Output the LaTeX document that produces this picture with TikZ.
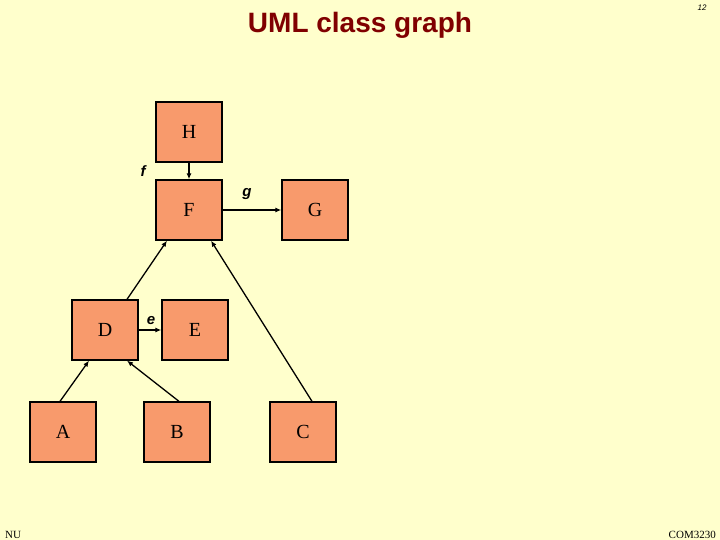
\documentclass[tikz,border=0pt]{standalone}
\usepackage{fontspec}
\setmainfont{Liberation Serif}
\newfontfamily\arial{Liberation Sans}
\usetikzlibrary{arrows.meta}
\begin{document}
\begin{tikzpicture}[x=1pt,y=-1pt,
  cls/.style={draw=black,line width=1.3pt,fill=boxc,minimum width=66pt,minimum height=60pt,inner sep=0pt,font=\fontsize{20}{20}\selectfont},
  lbl/.style={font=\arial\bfseries\itshape\fontsize{15}{15}\selectfont},
  conn/.style={line width=1.3pt,-{Latex[length=6pt,width=5pt]}}]
\definecolor{bg}{HTML}{FFFFCC}
\definecolor{boxc}{HTML}{F89A6C}
\definecolor{ttl}{HTML}{800000}
\fill[bg] (0,0) rectangle (720,540);
\useasboundingbox (0,0) rectangle (720,540);
\node[font=\arial\bfseries\fontsize{28}{28}\selectfont,text=ttl] (title) at (360,25) {UML class graph};
\node[font=\arial\itshape\fontsize{8}{8}\selectfont] (pg) at (702,8) {12};
\node[font=\fontsize{11}{11}\selectfont,anchor=south west,inner sep=0pt] (nu) at (5,539) {NU};
\node[font=\fontsize{11}{11}\selectfont,anchor=south east,inner sep=0pt] (com) at (716,539) {COM3230};
\node[cls] (H) at (189,132) {H};
\node[cls] (F) at (189,210) {F};
\node[cls] (G) at (315,210) {G};
\node[cls] (D) at (105,330) {D};
\node[cls] (E) at (195,330) {E};
\node[cls] (A) at (63,432) {A};
\node[cls] (B) at (177,432) {B};
\node[cls] (C) at (303,432) {C};
\draw[conn] (H) -- (F);
\draw[conn] (F) -- (G);
\draw[conn] (D) -- (E);
\draw[conn] ([xshift=22pt]D.north) -- ([xshift=-22pt]F.south);
\draw[conn] ([xshift=9pt]C.north) -- ([xshift=22pt]F.south);
\draw[conn] ([xshift=-3pt]A.north) -- ([xshift=-16pt]D.south);
\draw[conn] ([xshift=2pt]B.north) -- ([xshift=22pt]D.south);
\node[lbl] (f) at (143,171) {f};
\node[lbl] (g) at (247,194) {g};
\node[lbl] (e) at (151,321) {e};
\end{tikzpicture}
\end{document}
